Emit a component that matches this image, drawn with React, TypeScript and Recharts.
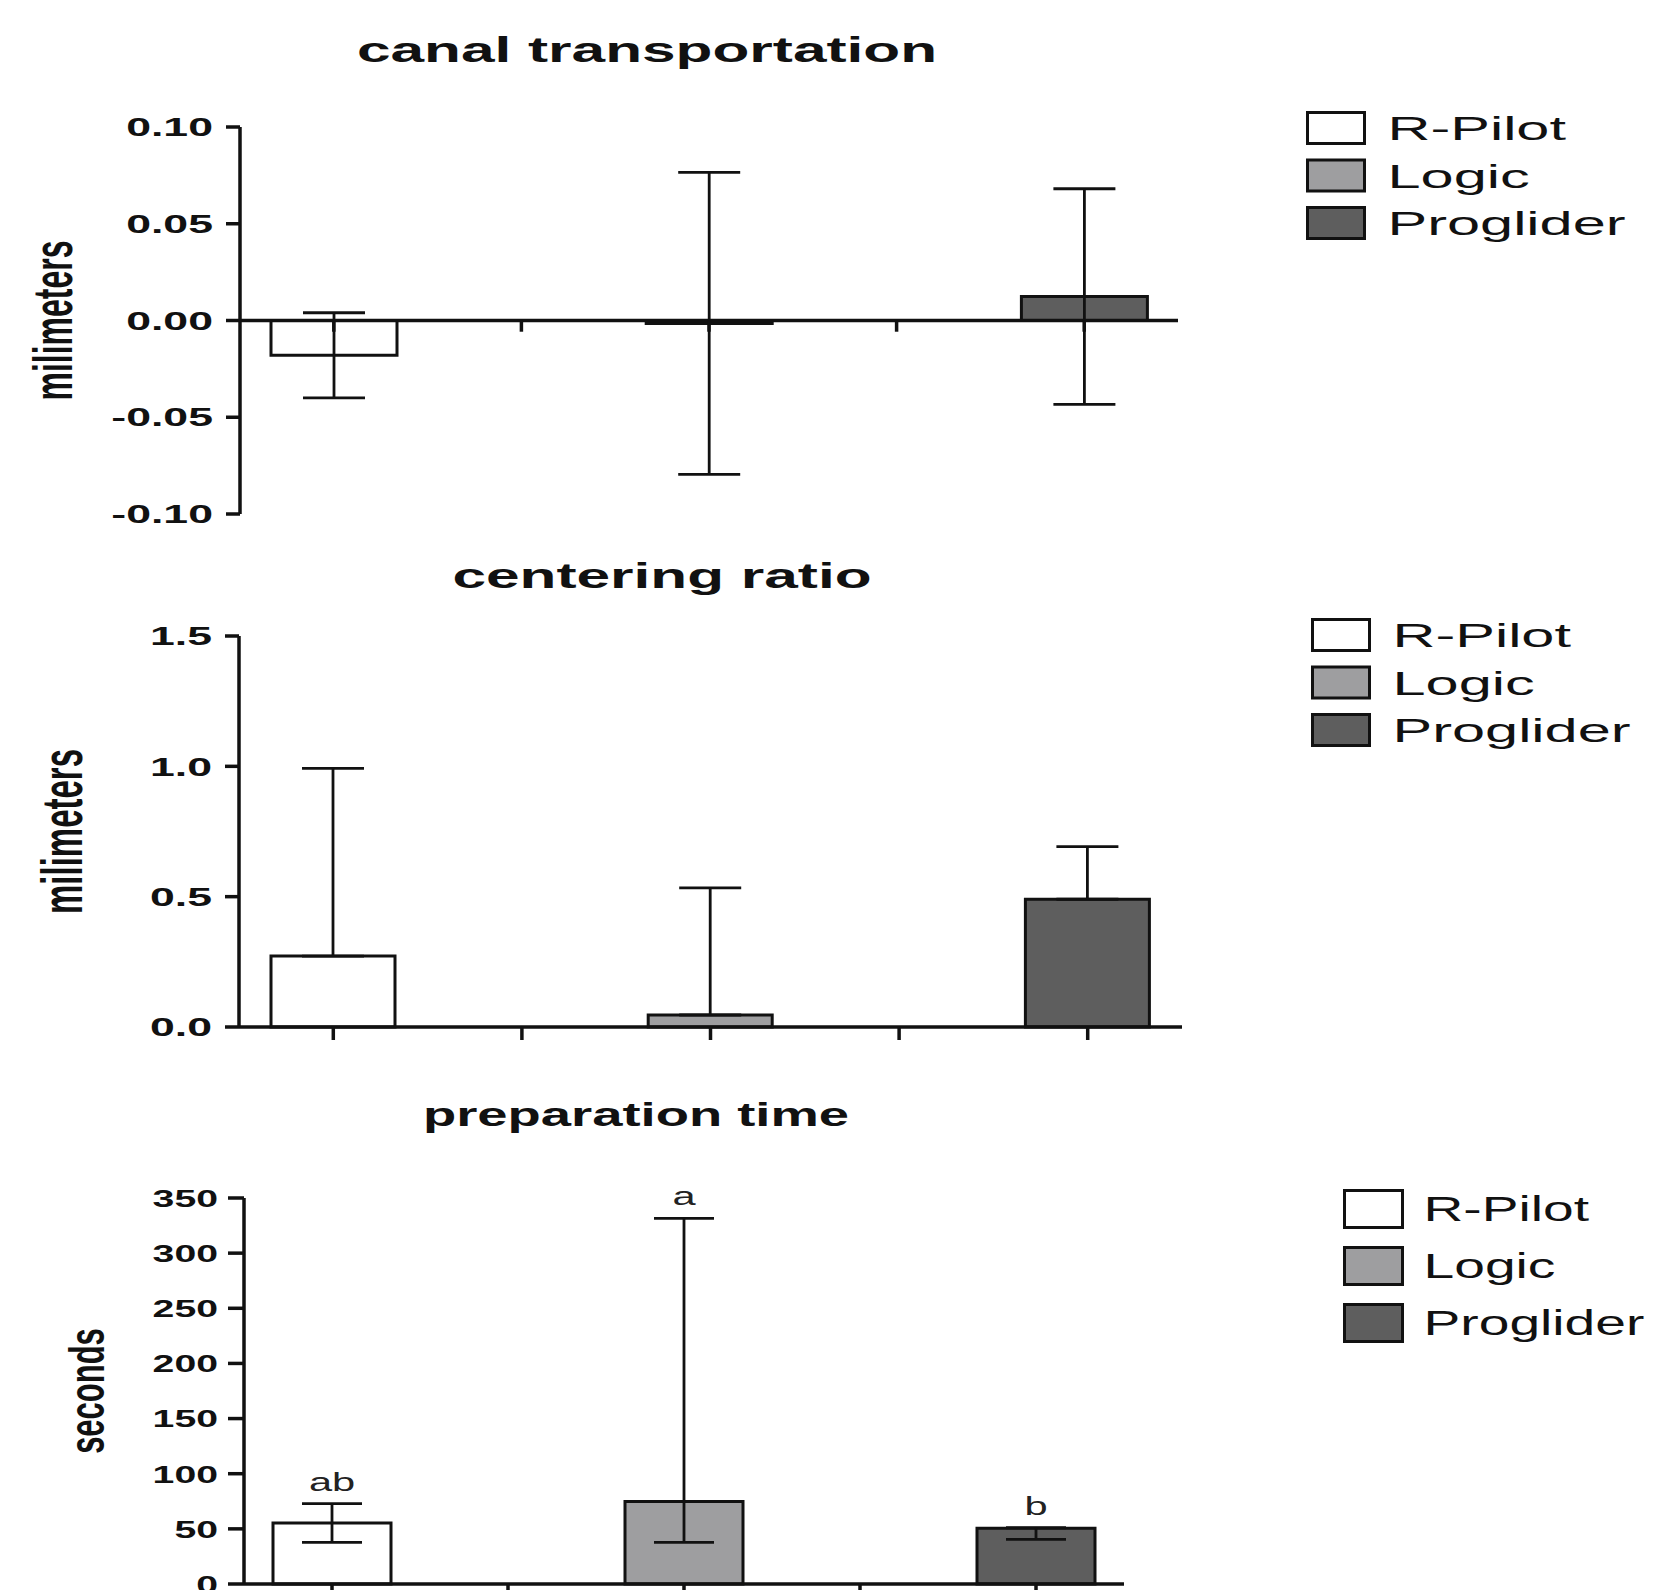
import React from 'react';
import { BarChart, Bar, XAxis, YAxis, Cell, ErrorBar, ReferenceLine, ReferenceDot, Legend } from 'recharts';

const FONT = '"Liberation Sans", Arial, Helvetica, sans-serif';
const INK = '#111111';

// ---------- data ----------
const groups = ['R-Pilot', 'Logic', 'Proglider'];
const slots = ['R-Pilot', 'gap-1', 'Logic', 'gap-2', 'Proglider'];

const transportMean = [-0.018, -0.0015, 0.0124];
const transportSD = [0.022, 0.078, 0.0557];
const transportTicks = [-0.1, -0.05, 0, 0.05, 0.1];

const centeringMean = [0.272, 0.046, 0.49];
const centeringSDUp = [0.72, 0.488, 0.202];
const centeringTicks = [0, 0.5, 1.0, 1.5];

const prepMean = [55.3, 74.7, 50.5];
const prepErrLow = [17.6, 37, 10];
const prepErrHigh = [17.6, 256.8, 0.5];
const prepLetters = ['ab', 'a', 'b'];
const prepTicks = [0, 50, 100, 150, 200, 250, 300, 350];

const titles = ['canal transportation', 'centering ratio', 'preparation time'];
const yLabels = ['milimeters', 'milimeters', 'seconds'];

// ---------- style ----------
const fills = ['#ffffff', '#9e9ea0', '#5e5e5e'];
const S1 = 1.75;
const S3 = 1.6;

type Row = { slot: string; value: number | null; err: number | number[] | null; fill: string };

function buildRows(mean: number[], err: (number | number[])[]): Row[] {
  return slots.map((slot) => {
    const i = groups.indexOf(slot);
    if (i < 0) return { slot, value: null, err: null, fill: 'none' };
    return { slot, value: mean[i], err: err[i], fill: fills[i] };
  });
}

const transportRows = buildRows(transportMean, transportSD);
const centeringRows = buildRows(centeringMean, centeringSDUp.map((u) => [0, u]));
const prepRows = buildRows(prepMean, prepErrLow.map((l, i) => [l, prepErrHigh[i]]));

function yTick(digits: number, fontSize: number, sx: number) {
  return (props: any) => {
    const { x, y, payload } = props;
    return (
      <text
        transform={`translate(${x},${y}) scale(${sx},1)`}
        textAnchor="end"
        dy="0.36em"
        fontFamily={FONT}
        fontWeight="bold"
        fontSize={fontSize}
        fill={INK}
      >
        {Number(payload.value).toFixed(digits)}
      </text>
    );
  };
}

function yLabel(text: string, cx: number, fontSize: number, sx: number) {
  return (props: any) => {
    const vb = props.viewBox || {};
    const cy = (vb.y ?? 0) + (vb.height ?? 0) / 2;
    return (
      <text
        transform={`translate(${cx},${cy}) scale(${sx},1) rotate(-90)`}
        textAnchor="middle"
        dy="0.36em"
        fontFamily={FONT}
        fontWeight="bold"
        fontSize={fontSize}
        fill={INK}
      >
        {text}
      </text>
    );
  };
}

function legendContent(boxW: number, boxH: number, pitch: number, textDx: number, fontSize: number, sx: number) {
  return () => (
    <svg width={380} height={pitch * 2 + boxH + 6} style={{ overflow: 'visible', display: 'block' }}>
      {groups.map((g, i) => (
        <g key={g}>
          <rect x={1.5} y={1.5 + i * pitch} width={boxW} height={boxH} fill={fills[i]} stroke={INK} strokeWidth={3} />
          <text
            transform={`translate(${1.5 + textDx},${1.5 + i * pitch + boxH / 2}) scale(${sx},1)`}
            dy="0.36em"
            fontFamily={FONT}
            fontSize={fontSize}
            fill={INK}
          >
            {g}
          </text>
        </g>
      ))}
    </svg>
  );
}

const emptyTick = () => <g />;
const axisStroke = { stroke: INK, strokeWidth: 3.5 };

function Title({ text, cx, baseline, size, sx }: { text: string; cx: number; baseline: number; size: number; sx: number }) {
  return (
    <text
      transform={`translate(${cx},${baseline}) scale(${sx},1)`}
      textAnchor="middle"
      fontFamily={FONT}
      fontWeight="bold"
      fontSize={size}
      fill={INK}
    >
      {text}
    </text>
  );
}

export default function App() {
  return (
    <div style={{ position: 'absolute', left: 0, top: 0, width: 1673, height: 1590, overflow: 'hidden', background: '#fff' }}>
      {/* Panel 1: canal transportation */}
      <div style={{ position: 'absolute', left: 0, top: 0 }}>
        <BarChart width={1673} height={540} data={transportRows} margin={{ top: 127, right: 495, bottom: 26, left: 0 }}>
          <XAxis dataKey="slot" hide interval={0} />
          <YAxis
            type="number"
            domain={[-0.1, 0.1]}
            ticks={transportTicks}
            interval={0}
            width={240}
            axisLine={axisStroke}
            tickLine={axisStroke}
            tickSize={14}
            tickMargin={13}
            tick={yTick(2, 25.5, S1)}
            label={{ content: yLabel(yLabels[0], 52, 32, S1) }}
          />
          <Bar dataKey="value" barSize={126} stroke={INK} strokeWidth={3} isAnimationActive={false}>
            {transportRows.map((r) => (
              <Cell key={r.slot} fill={r.fill} />
            ))}
            <ErrorBar dataKey="err" width={31} stroke={INK} strokeWidth={2.8} direction="y" />
          </Bar>
          <ReferenceLine y={0} stroke={INK} strokeWidth={3.5} />
          {slots.map((s) => (
            <ReferenceLine key={s} segment={[{ x: s, y: 0 }, { x: s, y: -0.0058 }]} stroke={INK} strokeWidth={3.5} />
          ))}
          <Legend
            layout="horizontal"
            verticalAlign="middle"
            align="center"
            wrapperStyle={{ left: 1305.5, top: 110.5, width: 380 }}
            content={legendContent(57, 31, 47.5, 80, 34, S1)}
          />
        </BarChart>
      </div>

      {/* Panel 2: centering ratio */}
      <div style={{ position: 'absolute', left: 0, top: 540 }}>
        <BarChart width={1673} height={520} data={centeringRows} margin={{ top: 96, right: 491, bottom: 3, left: 0 }}>
          <XAxis
            dataKey="slot"
            interval={0}
            height={30}
            axisLine={axisStroke}
            tickLine={axisStroke}
            tickSize={13}
            tick={emptyTick}
          />
          <YAxis
            type="number"
            domain={[0, 1.5]}
            ticks={centeringTicks}
            interval={0}
            width={239}
            axisLine={axisStroke}
            tickLine={axisStroke}
            tickSize={14}
            tickMargin={13}
            tick={yTick(1, 25.5, S1)}
            label={{ content: yLabel(yLabels[1], 61, 33, S1) }}
          />
          <Bar dataKey="value" barSize={124} stroke={INK} strokeWidth={3} isAnimationActive={false}>
            {centeringRows.map((r) => (
              <Cell key={r.slot} fill={r.fill} />
            ))}
            <ErrorBar dataKey="err" width={31} stroke={INK} strokeWidth={2.8} direction="y" />
          </Bar>
          <Legend
            layout="horizontal"
            verticalAlign="middle"
            align="center"
            wrapperStyle={{ left: 1310.5, top: 78, width: 380 }}
            content={legendContent(57, 31, 47.5, 80, 34, S1)}
          />
        </BarChart>
      </div>

      {/* Panel 3: preparation time */}
      <div style={{ position: 'absolute', left: 0, top: 1060 }}>
        <BarChart width={1673} height={564} data={prepRows} margin={{ top: 138, right: 549, bottom: 0, left: 0 }}>
          <XAxis
            dataKey="slot"
            interval={0}
            height={40}
            axisLine={axisStroke}
            tickLine={axisStroke}
            tickSize={13}
            tick={emptyTick}
          />
          <YAxis
            type="number"
            domain={[0, 350]}
            ticks={prepTicks}
            interval={0}
            width={244}
            axisLine={axisStroke}
            tickLine={axisStroke}
            tickSize={16}
            tickMargin={10}
            tick={yTick(0, 24.5, S3)}
            label={{ content: yLabel(yLabels[2], 86, 31, S3) }}
          />
          <Bar dataKey="value" barSize={118} stroke={INK} strokeWidth={3} isAnimationActive={false}>
            {prepRows.map((r) => (
              <Cell key={r.slot} fill={r.fill} />
            ))}
            <ErrorBar dataKey="err" width={30} stroke={INK} strokeWidth={2.8} direction="y" />
          </Bar>
          {groups.map((g, i) => (
            <ReferenceDot
              key={g}
              x={g}
              y={prepMean[i] + prepErrHigh[i]}
              r={0}
              ifOverflow="visible"
              shape={(p: any) => (
                <text
                  transform={`translate(${p.cx},${p.cy - 13}) scale(${S3},1)`}
                  textAnchor="middle"
                  fontFamily={FONT}
                  fontSize={26}
                  fill="#222"
                >
                  {prepLetters[i]}
                </text>
              )}
            />
          ))}
          <Legend
            layout="horizontal"
            verticalAlign="middle"
            align="center"
            wrapperStyle={{ left: 1342.5, top: 128.5, width: 380 }}
            content={legendContent(58, 37, 57, 79, 34.5, S3)}
          />
        </BarChart>
      </div>

      {/* Titles */}
      <svg
        width={1673}
        height={1590}
        style={{ position: 'absolute', left: 0, top: 0, pointerEvents: 'none' }}
      >
        <Title text={titles[0]} cx={647} baseline={62} size={34.5} sx={S1} />
        <Title text={titles[1]} cx={662} baseline={588} size={34.5} sx={S1} />
        <Title text={titles[2]} cx={636} baseline={1126} size={34} sx={S3} />
      </svg>
    </div>
  );
}
